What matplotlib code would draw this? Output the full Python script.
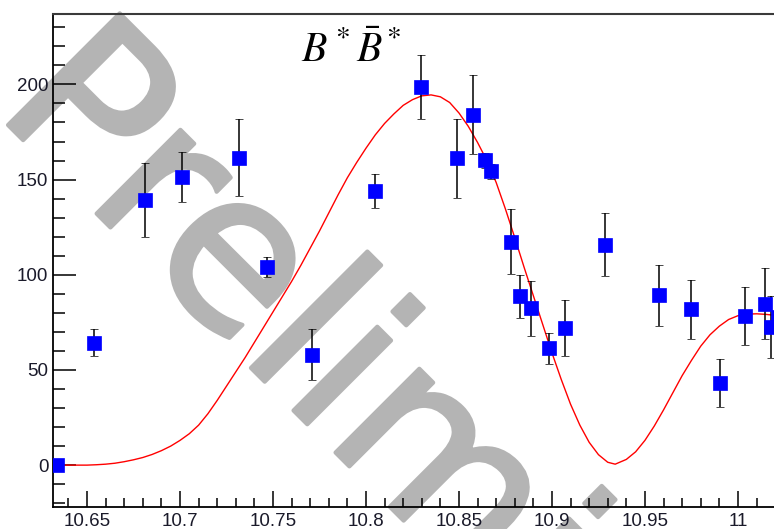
import numpy as np
import matplotlib
matplotlib.use("Agg")
import matplotlib.pyplot as plt
import matplotlib.patheffects as pe
from matplotlib.ticker import MultipleLocator, FuncFormatter

mass = [10.6337, 10.6539, 10.6812, 10.7012, 10.7317, 10.7466, 10.7711, 10.8048,
        10.8296, 10.8489, 10.8575, 10.8640, 10.8670, 10.8780, 10.8828, 10.8890,
        10.8982, 10.9072, 10.9287, 10.9574, 10.9749, 10.9903, 11.0038, 11.0145,
        11.0176, 11.0215]
counts = [0, 64.4, 139.2, 151.4, 161.4, 104.0, 58.1, 143.9,
          198.4, 161.1, 184.2, 160.2, 154.4, 117.3, 88.8, 82.3,
          61.3, 72.1, 115.9, 89.3, 81.8, 43.1, 78.3, 84.9,
          72.6, 77.7]
errors = [0, 7.3, 19.4, 13.3, 20.2, 5.3, 13.4, 8.9,
          16.8, 20.7, 21.0, 4.0, 4.0, 17.0, 11.3, 14.6,
          8.0, 14.7, 16.4, 16.0, 15.3, 12.5, 15.2, 18.6,
          16.4, 16.8]

# fit curve
fit_x = [10.6317, 10.650, 10.655, 10.660, 10.665, 10.670, 10.675, 10.680, 10.685,
         10.690, 10.695, 10.700, 10.705, 10.710, 10.715, 10.720, 10.725, 10.730,
         10.735, 10.740, 10.745, 10.750, 10.755, 10.760, 10.765, 10.770, 10.775,
         10.780, 10.785, 10.790, 10.795, 10.800, 10.805, 10.810, 10.815, 10.820,
         10.825, 10.830, 10.835, 10.840, 10.845, 10.850, 10.855, 10.860, 10.865,
         10.870, 10.875, 10.880, 10.885, 10.890, 10.895, 10.900, 10.905, 10.910,
         10.915, 10.920, 10.925, 10.930, 10.934, 10.940, 10.945, 10.950, 10.955,
         10.960, 10.965, 10.970, 10.975, 10.980, 10.985, 10.990, 10.995, 11.000,
         11.005, 11.010, 11.015, 11.022]
fit_y = [0, 0, 0.2, 0.5, 1.0, 1.8, 2.8, 4.0, 5.6,
         7.6, 10.0, 13.0, 16.5, 21.0, 27.0, 34.0, 41.5, 49.0,
         56.5, 64.5, 72.5, 80.5, 88.5, 96.5, 105.0, 114.0, 123.0,
         132.5, 142.0, 151.0, 159.0, 166.5, 173.5, 179.5, 184.5, 189.0,
         192.0, 194.0, 194.5, 193.5, 190.5, 185.0, 178.0, 169.5, 160.0,
         148.5, 134.5, 119.5, 104.0, 89.0, 74.0, 59.0, 45.0, 32.0,
         21.0, 12.0, 5.5, 1.5, 0.5, 3.0, 7.0, 13.0, 20.5,
         29.0, 38.0, 47.0, 55.0, 62.5, 68.5, 73.0, 76.5, 78.5,
         79.3, 79.5, 79.2, 78.5]

W, H = 774, 529
fig = plt.figure(figsize=(W / 100, H / 100), dpi=100)
fig.patch.set_facecolor("white")

# watermark behind the axes
wm_gray = "#b4b4b4"
fig.text(-7 / W, 1 - 110 / H, "Preliminary", fontsize=156, family="DejaVu Sans",
         color=wm_gray, rotation=-45, rotation_mode="anchor", ha="left", va="baseline",
         zorder=-5,
         path_effects=[pe.Stroke(linewidth=3, foreground=wm_gray, joinstyle="round"),
                       pe.Normal()])

ax = fig.add_axes([53 / W, 22 / H, 1 - 53 / W, 493 / H])
ax.set_facecolor("none")
ax.set_xlim(10.6317, 11.0194)
ax.set_ylim(-22, 237)

ax.plot(fit_x, fit_y, color="red", lw=1.0, zorder=3)
ax.errorbar(mass, counts, yerr=errors, fmt="s", color="blue", ms=9.4,
            mec="blue", mew=0.5, ecolor="black", elinewidth=1.1,
            capsize=2.6, capthick=1.1, zorder=4)

ax.xaxis.set_major_locator(MultipleLocator(0.05))
ax.xaxis.set_minor_locator(MultipleLocator(0.01))
ax.yaxis.set_major_locator(MultipleLocator(50))
ax.yaxis.set_minor_locator(MultipleLocator(10))
ax.xaxis.set_major_formatter(FuncFormatter(lambda v, p: "%g" % round(v, 2)))
ax.yaxis.set_major_formatter(FuncFormatter(lambda v, p: "%g" % v))

ax.tick_params(axis="both", which="both", direction="in", width=1.1, color="black")
ax.tick_params(axis="y", which="major", length=16.6, pad=3.4)
ax.tick_params(axis="y", which="minor", length=8.6)
ax.tick_params(axis="x", which="major", length=11.5, pad=4)
ax.tick_params(axis="x", which="minor", length=6.5)
for lab in ax.get_xticklabels() + ax.get_yticklabels():
    lab.set_fontfamily("Liberation Sans")
    lab.set_fontsize(13.5)
    lab.set_color("#1a1a2a")

ax.spines["right"].set_visible(False)
ax.spines["left"].set_linewidth(1.3)
ax.spines["bottom"].set_linewidth(1.3)
ax.spines["top"].set_linewidth(1.5)
ax.spines["top"].set_color("#3a3a3a")

plt.rcParams["mathtext.fontset"] = "stix"
fig.text(301 / W, 1 - 62 / H, r"$B^*\bar{B}^*$", fontsize=30, ha="left", va="baseline")

fig.savefig("out.png", dpi=100)
